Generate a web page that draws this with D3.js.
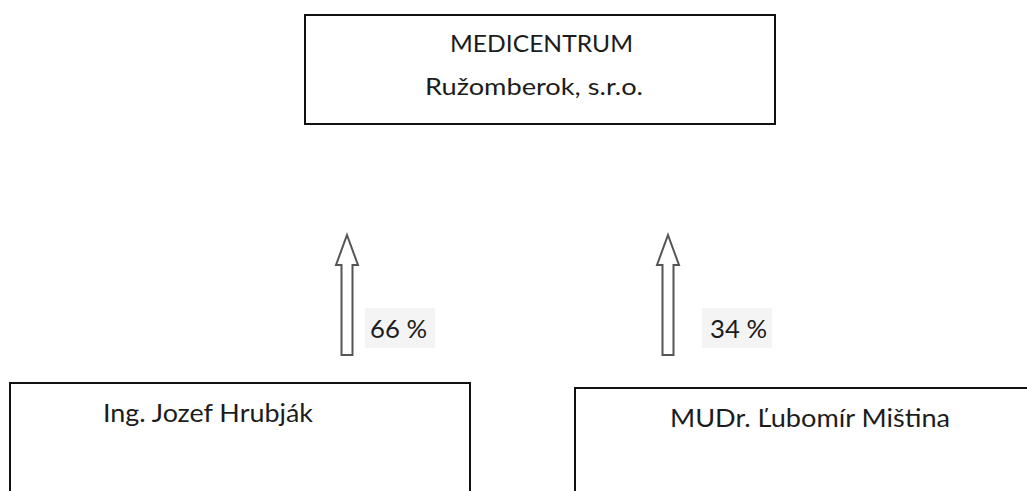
<!DOCTYPE html>
<head>
	<meta charset="utf-8">
	<script src="https://d3js.org/d3.v7.min.js"></script>
	<style>
		body { margin: 0; background: #fff; }
		svg { display: block; }
		text { font-family: Lato, "Open Sans", sans-serif; fill: #1c1c1c; }
	</style>
</head>
<body>
<svg></svg>
<script>
	var width = 1027, height = 491;

	// data
	var company = ['MEDICENTRUM', 'Ružomberok, s.r.o.'];
	var owners = ['Ing. Jozef Hrubják', 'MUDr. Ľubomír Miština'];
	var shares = [66, 34];

	var svg = d3.select('svg').attr('width', width).attr('height', height);

	// layout per owner
	var boxX = d3.scaleOrdinal().domain(owners).range([10, 575]);
	var boxW = d3.scaleOrdinal().domain(owners).range([460, 470]);
	var boxY = d3.scaleOrdinal().domain(owners).range([383, 388]);
	var arrowX = d3.scaleOrdinal().domain(owners).range([347, 668]);
	var nameX = d3.scaleOrdinal().domain(owners).range([103, 670]);
	var nameLen = d3.scaleOrdinal().domain(owners).range([210, 280]);

	/* --------- TOP BOX --------- */
	var companyG = svg.append('g').attr('class', 'company');
	companyG.append('rect')
		.attr('x', 305).attr('y', 15)
		.attr('width', 470).attr('height', 109)
		.attr('fill', 'none')
		.attr('stroke', '#111')
		.attr('stroke-width', 2);

	companyG.selectAll('text')
		.data(company)
		.enter()
		.append('text')
		.attr('x', function (d, i) { return i === 0 ? 450 : 425; })
		.attr('y', function (d, i) { return 52 + i * 43; })
		.attr('font-size', 23)
		.attr('textLength', function (d, i) { return i === 0 ? 183 : 218; })
		.attr('lengthAdjust', 'spacingAndGlyphs')
		.text(function (d) { return d; });

	/* --------- OWNER BOXES --------- */
	var og = svg.selectAll('g.owner')
		.data(owners)
		.enter()
		.append('g')
		.attr('class', 'owner');

	og.append('path')
		.attr('fill', 'none')
		.attr('stroke', '#111')
		.attr('stroke-width', 2)
		.attr('d', function (d) {
			var x = boxX(d), y = boxY(d), w = boxW(d);
			return 'M' + x + ',' + (height + 2) + 'V' + y + 'H' + (x + w) + 'V' + (height + 2);
		});

	og.append('text')
		.attr('x', function (d) { return nameX(d); })
		.attr('y', function (d) { return boxY(d) + 39; })
		.attr('font-size', 25)
		.attr('textLength', function (d) { return nameLen(d); })
		.attr('lengthAdjust', 'spacingAndGlyphs')
		.text(function (d) { return d; });

	/* --------- ARROWS --------- */
	var arrow = d3.line();
	var ag = svg.selectAll('g.arrow')
		.data(shares)
		.enter()
		.append('g')
		.attr('class', 'arrow');

	ag.append('path')
		.attr('fill', '#fff')
		.attr('stroke', '#555')
		.attr('stroke-width', 2)
		.attr('stroke-linejoin', 'miter')
		.attr('d', function (d, i) {
			var cx = arrowX(owners[i]);
			return arrow([
				[cx, 235], [cx + 11, 265], [cx + 5.5, 265], [cx + 5.5, 355],
				[cx - 5.5, 355], [cx - 5.5, 265], [cx - 11, 265]
			]) + 'Z';
		});

	ag.append('rect')
		.attr('x', function (d, i) { return arrowX(owners[i]) + (i === 0 ? 18 : 34); })
		.attr('y', 308)
		.attr('width', 70)
		.attr('height', 40)
		.attr('fill', '#f4f4f4');

	ag.append('text')
		.attr('x', function (d, i) { return arrowX(owners[i]) + (i === 0 ? 23 : 42); })
		.attr('y', 338)
		.attr('font-size', 25)
		.attr('textLength', 57)
		.attr('lengthAdjust', 'spacingAndGlyphs')
		.text(function (d) { return d + ' %'; });
</script>
</body>
